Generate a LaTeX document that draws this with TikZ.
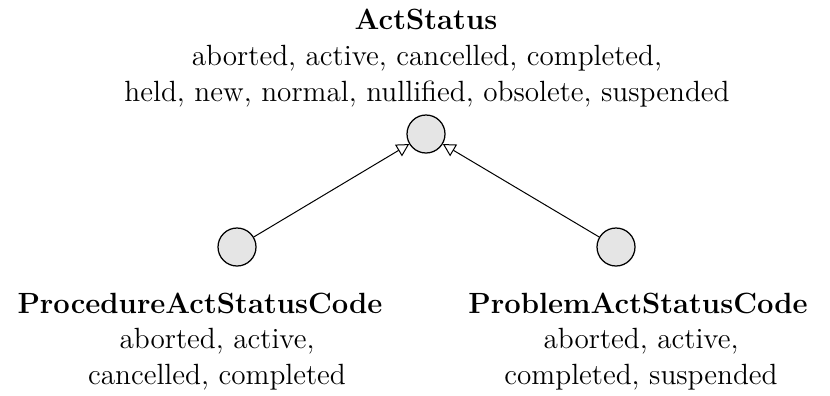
\documentclass[tikz,border=0pt]{standalone}
\usetikzlibrary{arrows.meta}
\begin{document}
\begin{tikzpicture}[x=0.4pt,y=-0.4pt,
  state/.style={circle,draw,fill=black!10,minimum size=15.2pt,inner sep=0pt,line width=0.5pt},
  title/.style={inner sep=0pt,anchor=base,font=\fontsize{11.7}{14.2}\selectfont\bfseries},
  desc/.style={align=center,inner sep=0pt,anchor=north,font=\fontsize{11.7}{14.2}\selectfont},
  gen/.style={-{Triangle[open,length=5pt,width=5.4pt]},line width=0.4pt}]
\useasboundingbox (0,0) rectangle (830,395);
% classifier circles
\node[state] (top) at (426,134) {};
\node[state] (proc) at (237,247) {};
\node[state] (prob) at (616,247) {};
% names and value lists
\node[title] (toptitle) at (426,29) {ActStatus};
\node[desc] (toplist) at (427,45)
  {aborted, active, cancelled, completed,\\held, new, normal, nullified, obsolete, suspended};
\node[title] (proctitle) at (200,313) {ProcedureActStatusCode};
\node[desc] (proclist) at (217,328) {aborted, active,\\cancelled, completed};
\node[title] (probtitle) at (638,313) {ProblemActStatusCode};
\node[desc] (problist) at (641,328) {aborted, active,\\completed, suspended};
% generalisation arrows
\draw[gen] (proc) -- (top);
\draw[gen] (prob) -- (top);
\end{tikzpicture}
\end{document}
